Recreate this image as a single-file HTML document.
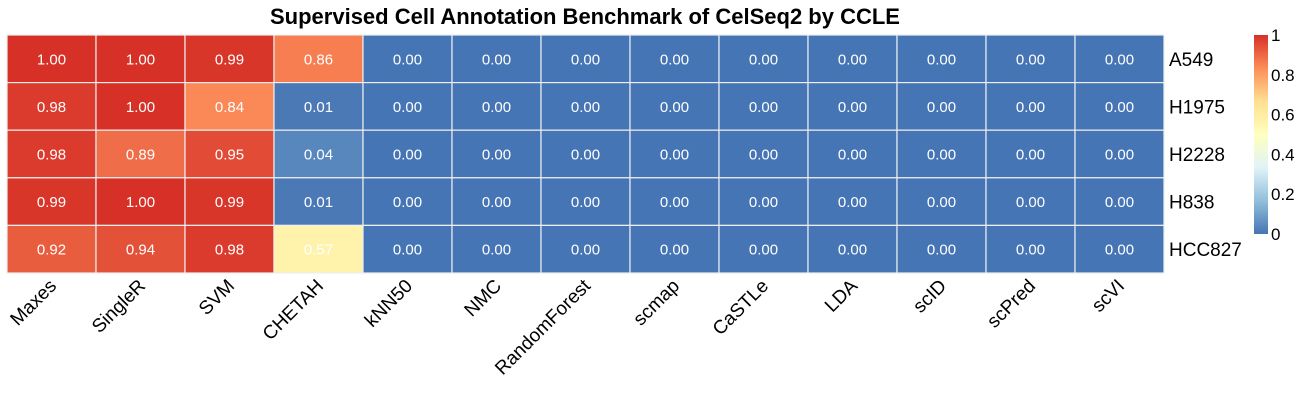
<!DOCTYPE html>
<html><head><meta charset="utf-8"><style>
body{margin:0;background:#fff;}
svg{display:block;font-family:"Liberation Sans",sans-serif;}
</style></head><body>
<svg id="chart" width="1311" height="419">
<defs><linearGradient id="cg" x1="0" y1="1" x2="0" y2="0">
<stop offset="0" stop-color="#4575B4"/><stop offset="0.1667" stop-color="#91BFDB"/><stop offset="0.3333" stop-color="#E0F3F8"/><stop offset="0.5" stop-color="#FFFFBF"/><stop offset="0.6667" stop-color="#FEE090"/><stop offset="0.8333" stop-color="#FC8D59"/><stop offset="1" stop-color="#D73027"/></linearGradient></defs>
<text x="585" y="24" text-anchor="middle" font-size="22" font-weight="bold">Supervised Cell Annotation Benchmark of CelSeq2 by CCLE</text>
<g id="cells"></g>
<rect x="1254" y="35" width="14" height="199" fill="url(#cg)"/>
<g id="legend"></g>
</svg>
<script>
const methods=["Maxes","SingleR","SVM","CHETAH","kNN50","NMC","RandomForest","scmap","CaSTLe","LDA","scID","scPred","scVI"];
const cellLines=["A549","H1975","H2228","H838","HCC827"];
const valA549=[1.00,1.00,0.99,0.86,0,0,0,0,0,0,0,0,0];
const valH1975=[0.98,1.00,0.84,0.01,0,0,0,0,0,0,0,0,0];
const valH2228=[0.98,0.89,0.95,0.04,0,0,0,0,0,0,0,0,0];
const valH838=[0.99,1.00,0.99,0.01,0,0,0,0,0,0,0,0,0];
const valHCC827=[0.92,0.94,0.98,0.57,0,0,0,0,0,0,0,0,0];
const legendTicks=[0,0.2,0.4,0.6,0.8,1];
const rowsData=[valA549,valH1975,valH2228,valH838,valHCC827];
const NS="http://www.w3.org/2000/svg";
const x0=7,y0=35,cw=(1164-7)/methods.length,rh=(273-35)/cellLines.length;
const xs=i=>x0+i*cw, ys=j=>y0+j*rh;
const stops=["#4575B4","#91BFDB","#E0F3F8","#FFFFBF","#FEE090","#FC8D59","#D73027"].map(h=>[1,3,5].map(k=>parseInt(h.substr(k,2),16)));
function col(v){const t=Math.max(0,Math.min(1,v))*6;const i=Math.min(5,Math.floor(t));const f=t-i;const c=stops[i].map((a,k)=>Math.round(a+(stops[i+1][k]-a)*f));return `rgb(${c})`;}
const g=document.getElementById('cells');
function mk(tag,attrs,parent){const e=document.createElementNS(NS,tag);for(const k in attrs)e.setAttribute(k,attrs[k]);parent.appendChild(e);return e;}
rowsData.forEach((row,j)=>{
 row.forEach((v,i)=>{
  const r=mk('rect',{x:xs(i),y:ys(j),width:cw,height:rh,fill:col(v),stroke:'#eeeeee','stroke-width':1.2},g);
  
  
  const t=mk('text',{x:xs(i)+cw/2,y:ys(j)+rh/2+5.5,'text-anchor':'middle','font-size':15,fill:'#fff'},g);
  t.textContent=v.toFixed(2);
  
  
 });
 const l=mk('text',{x:1169,y:ys(j)+rh/2+7,'font-size':19},g);
 l.textContent=cellLines[j];
 
 
});
methods.forEach((m,i)=>{
 const cx=xs(i)+cw/2+6,cy=287;
 const t=mk('text',{x:cx,y:cy,'text-anchor':'end','font-size':19,transform:`rotate(-45 ${cx} ${cy})`},g);
 t.textContent=m;
 
 
});
const lg=document.getElementById('legend');
legendTicks.forEach(v=>{
 const y=234-v*199;
 const t=mk('text',{x:1271,y:y+6,'font-size':17},lg);
 t.textContent=String(v);
 
 
});
</script>
</body></html>
